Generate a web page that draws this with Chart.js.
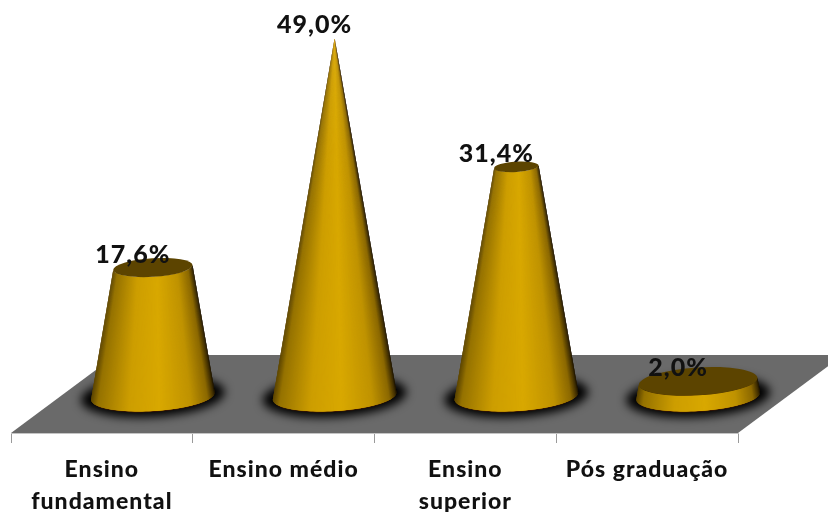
<!DOCTYPE html>
<html lang="pt">
<head>
<meta charset="utf-8">
<title>Escolaridade</title>
<script src="https://cdn.jsdelivr.net/npm/chart.js@4"></script>
<style>
    html, body { margin: 0; padding: 0; background: #fff; }
    canvas { display: block; }
</style>
</head>
<body>
<canvas id="coneChart" width="828" height="512"></canvas>
<script>
// =============================================
// DATA
// =============================================
const categories = [["Ensino", "fundamental"], "Ensino médio", ["Ensino", "superior"], "Pós graduação"];
const percentages = [17.6, 49.0, 31.4, 2.0];

// =============================================
// 3D LOOK
// =============================================
const FLOOR_DEPTH = 78;      // px the floor runs back from the axis
const FLOOR_SHEAR = 105;     // px the back edge moves to the right
const CONE_SHIFT = 51;       // px the cones sit right of their band centre
const BASE_RY = 15;
const TOP_RATIO = 0.235;     // height/width of the cut top of a cone
const TILT = -3.5 * Math.PI / 180;
const FONT = "Lato, Carlito, sans-serif";

// left edge -> middle -> right edge of a cone body
const BODY_STOPS = [
    [-1.0, [96, 72, 0]],
    [-0.9, [150, 115, 0]],
    [-0.4, [205, 158, 0]],
    [0.1, [216, 168, 0]],
    [0.6, [192, 147, 0]],
    [0.88, [140, 105, 0]],
    [0.98, [62, 45, 0]],
    [1.0, [34, 24, 0]]
];

function bodyColor(u) {
    for (let i = 1; i < BODY_STOPS.length; i++) {
        const [u1, c1] = BODY_STOPS[i];
        if (u <= u1) {
            const [u0, c0] = BODY_STOPS[i - 1];
            const t = (u - u0) / (u1 - u0);
            const c = c0.map((v, k) => Math.round(v + (c1[k] - v) * t));
            return `rgb(${c[0]},${c[1]},${c[2]})`;
        }
    }
    return "rgb(34,24,0)";
}

function ellipsePoint(cx, cy, rx, ry, t) {
    const x = rx * Math.cos(t);
    const y = ry * Math.sin(t);
    return [
        cx + x * Math.cos(TILT) - y * Math.sin(TILT),
        cy + x * Math.sin(TILT) + y * Math.cos(TILT)
    ];
}

// =============================================
// DRAWING HELPERS
// =============================================
function floorPath(ctx, area) {
    ctx.beginPath();
    ctx.moveTo(area.left, area.bottom);
    ctx.lineTo(area.right, area.bottom);
    ctx.lineTo(area.right + FLOOR_SHEAR, area.bottom - FLOOR_DEPTH);
    ctx.lineTo(area.left + FLOOR_SHEAR, area.bottom - FLOOR_DEPTH);
    ctx.closePath();
}

function drawFloor(ctx, area) {
    floorPath(ctx, area);
    ctx.fillStyle = "#6a6a6a";
    ctx.fill();
}

function drawShadow(ctx, area, cx, cy, rx) {
    ctx.save();
    floorPath(ctx, area);
    ctx.clip();
    ctx.filter = "blur(5px)";
    ctx.fillStyle = "#000";
    ctx.beginPath();
    ctx.ellipse(cx, cy, rx + 10, BASE_RY + 6, TILT, 0, Math.PI * 2);
    ctx.fill();
    ctx.restore();
}

function drawCone(ctx, cx, baseY, topY, rx, topRx) {
    const topRy = topRx * TOP_RATIO;
    const steps = 180;

    // dark rim under the base
    ctx.fillStyle = "#3a1600";
    ctx.beginPath();
    ctx.ellipse(cx, baseY + 1, rx - 1, BASE_RY, TILT, 0, Math.PI * 2);
    ctx.fill();

    // body, slices overlap the next ones so no seams show between them
    for (let i = 0; i < steps; i++) {
        const t0 = Math.PI - Math.PI * i / steps;
        const t1 = Math.max(0, Math.PI - Math.PI * (i + 3) / steps);
        const a = ellipsePoint(cx, baseY, rx, BASE_RY, t0);
        const b = ellipsePoint(cx, baseY, rx, BASE_RY, t1);
        const c = ellipsePoint(cx, topY, topRx, topRy, t1);
        const d = ellipsePoint(cx, topY, topRx, topRy, t0);
        ctx.fillStyle = bodyColor(Math.cos(t0 - Math.PI / steps / 2));
        ctx.beginPath();
        ctx.moveTo(a[0], a[1]);
        ctx.lineTo(b[0], b[1]);
        ctx.lineTo(c[0], c[1]);
        ctx.lineTo(d[0], d[1]);
        ctx.closePath();
        ctx.fill();
    }

    // cut top
    if (topRx > 0.5) {
        ctx.fillStyle = "#5c4400";
        ctx.beginPath();
        ctx.ellipse(cx, topY, topRx, topRy, TILT, 0, Math.PI * 2);
        ctx.fill();
    }
}

// =============================================
// PLUGIN: FLOOR, CONES AND VALUE LABELS
// =============================================
const conePlugin = {
    id: "cones",
    beforeDraw(chart) {
        chart.ctx.letterSpacing = "1px";
    },
    afterDatasetsDraw(chart) {
        const ctx = chart.ctx;
        const area = chart.chartArea;
        const yScale = chart.scales.y;
        const bars = chart.getDatasetMeta(0).data;
        const maxValue = Math.max(...percentages);
        const baseY = yScale.getPixelForValue(0);

        drawFloor(ctx, area);

        bars.forEach(bar => drawShadow(ctx, area, bar.x + CONE_SHIFT, baseY, bar.width / 2));

        bars.forEach((bar, i) => {
            const rx = bar.width / 2;
            const topRx = rx * (1 - percentages[i] / maxValue);
            drawCone(ctx, bar.x + CONE_SHIFT, baseY, bar.y, rx, topRx);
        });

        ctx.font = `900 25px ${FONT}`;
        ctx.fillStyle = "#111";
        ctx.textAlign = "center";
        ctx.textBaseline = "middle";
        bars.forEach((bar, i) => {
            const text = percentages[i].toFixed(1).replace(".", ",") + "%";
            ctx.fillText(text, bar.x + CONE_SHIFT - 20, bar.y - 13);
        });
    }
};

// =============================================
// CHART
// =============================================
new Chart(document.getElementById("coneChart"), {
    type: "bar",
    data: {
        labels: categories,
        datasets: [{
            data: percentages,
            backgroundColor: "rgba(0,0,0,0)",
            categoryPercentage: 1,
            barPercentage: 0.682
        }]
    },
    options: {
        responsive: false,
        animation: false,
        layout: { padding: { left: 11, right: 90, top: 0, bottom: 0 } },
        plugins: {
            legend: { display: false },
            tooltip: { enabled: false }
        },
        scales: {
            x: {
                afterFit(scale) { scale.height = 79; },
                border: { color: "#c4c4c4" },
                grid: {
                    drawOnChartArea: false,
                    color: "#9a9a9a",
                    tickLength: 10
                },
                ticks: {
                    color: "#111",
                    padding: 10,
                    maxRotation: 0,
                    autoSkip: false,
                    font: { family: FONT, size: 23, weight: 900, lineHeight: 1.4 }
                }
            },
            y: {
                display: false,
                min: -5.07,
                max: 54.25
            }
        }
    },
    plugins: [conePlugin]
});
</script>
</body>
</html>
